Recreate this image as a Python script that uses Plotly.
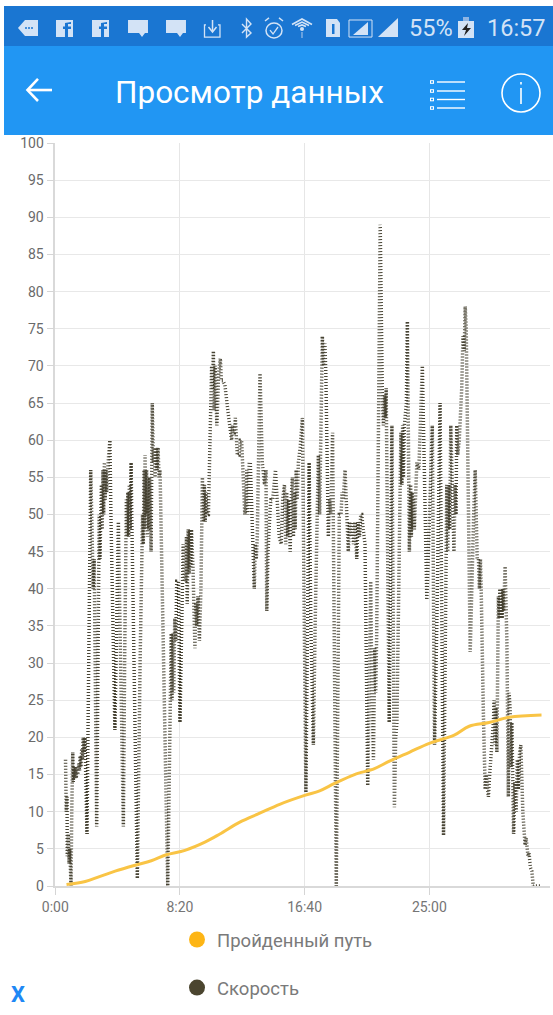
import plotly.graph_objects as go

W, H = 553, 1015

speed_samples = [(41,17),(44,10),(47,12),(48,4),(52,7),(55,3),(58,5),(63,0),(66,10),(70,18),(72,14),(75,16),(78,14.5),(81,16),(84,14.5),(87,16),(90,15),(94,16.5),(97,15.5),(100,17.5),(103,16),(106,18.5),(109,17),(112,20),(116,18),(119,20),(127,7),(136,35),(142,56),(146,50),(149,44),(152,40),(156,44),(160,30),(166,8),(170,25),(176,50),(179,44),(182,52),(185,54),(188,48),(191,56),(194,50),(197,57),(200,52),(203,56),(206,53),(210,56),(214,58),(219,60),(223,50),(239,21),(246,35),(250,44),(253,49),(258,38),(273,8),(278,30),(282,49),(285,52),(288,47),(291,53),(294,47),(297,54),(300,48),(304,57),(307,49),(329,1),(340,30),(350,50),(353,46),(356,56),(358,48),(360,58),(363,50),(366,56),(369,47),(372,55),(375,48),(378,55),(384,45),(389,65),(393,57),(397,59),(400,55),(404,59),(408,56),(412,59),(416,55),(420,56),(451,0),(460,20),(465,34),(468,25),(472,34),(475,26),(479,36),(483,33),(487,41),(494,41),(500,22),(507,35),(513,46),(518,41),(523,41),(526,47),(529,38),(533,48),(537,42),(540,48),(543,43),(546,48),(552,43),(560,32),(563,38),(567,35),(572,39),(578,33),(584,40),(590,55),(594,49),(598,54),(601,49),(604,53),(608,50),(614,50),(620,62),(627,70),
 (630,67),(632,71),(634,72),(637,64),(641,70),(648,62),(655,69),(662,71),(666,68),(672,68),(680,67.5),(692,64),(707,60),(711,62),(714,61),(718,61),(722,63),(730,58),(737,58),(742,60),(747,60),(755,54),(760,50),(764,51),(768,56),(772,50),(778,57),(782,57),(790,47),(798,40),(802,46),(806,44),(810,47),(815,55),(821,69),(830,57),(835,55),(839,54),(845,56),(848,37),(853,45),(858,50),(862,51),(865,52),(872,52),(883,56),(892,50),(898,47),(906,46),(912,52),(919,54),(924,46),(928,53),(932,47),(936,52),(942,45),(946,52),(951,55),(955,47),(959,53),(962,48),(966,56),(970,52),(975,57),(982,59),(991,63),(1005,12.6),(1018,57),(1025,35),(1035,19),(1042,35),(1050,47),(1055,58),(1060,50),(1065,60),(1071,74),(1076,70),(1081,73),(1085,69),(1095,47),(1100,52),(1105,50),(1112,61),(1127,0),(1139,50),(1146,50),(1150,53),(1155,52),(1162,56),(1170,49),(1175,45),(1180,49),(1185,47),(1190,49),(1196,46),(1202,49),(1209,44),(1214,49),(1220,47),(1225,50),(1229,50),(1235,48),(1242,46),(1253,13.5),(1265,41),(1270,25),(1276,17),(1281,32),(1285,26),(1289,34),(1294,50),(1303,89),
 (1312,65),(1316,62),(1321,66),(1324,63),(1327,67),(1339,22),(1344,40),(1350,62),(1360,10.6),(1365,20),(1370,22),(1374,34),(1380,50),(1383,54),(1386,61),(1390,54),(1393,62),(1396,55),(1400,62),(1408,65),(1412,76),(1420,45),(1425,54),(1428,47),(1431,53),(1434,48),(1437,52),(1440,48),(1444,53),(1450,57),(1458,56),(1465,62),(1472,70),(1490,38.5),(1500,50),(1512,62),(1521,19),(1530,35),(1543,65),(1557,6.8),(1570,54),(1574,45),(1578,54),(1582,48),(1586,62),(1599,45),(1603,54),(1607,50),(1610,62),(1614,58),(1620,60),(1630,67),(1635,74),(1640,72),(1644,78),(1648,75),(1664,31.5),(1672,44),(1678,50),(1684,56),(1692,44),(1697,44),(1701,40),(1705,44),(1708,40),(1717,23),(1724,13),(1728,15),(1733,13),(1737,12),(1742,15),(1747,17),(1752,19),(1757,22),(1760,25),(1764,19),(1767,24),(1771,18),(1777,39),(1780,36),(1783,40),(1786,36),(1789,40),(1792,36),(1795,40),(1798,37),(1804,43),(1811,33),(1817,12),(1820,26),(1824,24),(1828,16),(1831,22),(1835,10),(1838,7),(1843,14),(1848,10),(1853,17),(1857,13),(1862,18),(1867,19),(1875,10),(1880,7),(1884,5.5),(1888,6.5),(1892,5),(1896,4),(1900,4.5),(1905,2.5),(1911,2),(1917,0),(1950,0)]
speed_t = [s[0] for s in speed_samples]
speed_v = [s[1] for s in speed_samples]
distance_t = [45,120,180,240,320,385,445,520,600,660,740,820,900,1000,1060,1120,1200,1280,1340,1420,1500,1600,1660,1740,1820,1950]
distance_v = [0.2,0.6,1.3,2,2.8,3.4,4.2,4.8,5.9,7,8.6,9.8,11,12.2,12.8,13.8,15,15.8,16.8,18,19.2,20.3,21.5,22,22.7,23]
y_ticks = list(range(0, 101, 5))
x_ticks = [0, 500, 1000, 1500]
x_labels = ["0:00", "8:20", "16:40", "25:00"]
names = ["Пройденный путь", "Скорость"]
title = "Просмотр данных"

YEL, DARK = "#F9C445", "#4B452F"
FONT = "Roboto"
px = lambda x: x / W
py = lambda y: 1 - y / H
def P(x, y): return f"{px(x):.4f} {py(y):.4f}"
def path(pts, close=True):
    return "M" + " L".join(P(*p) for p in pts) + (" Z" if close else "")

fig = go.Figure()
fig.add_trace(go.Scatter(x=speed_t, y=speed_v, mode="lines", showlegend=False,
    line=dict(color="#474333", width=3.5, dash="1px,2px")))
fig.add_trace(go.Scatter(x=distance_t, y=distance_v, mode="lines", showlegend=False,
    line=dict(color=YEL, width=3, shape="spline")))
for i, (n, c) in enumerate(zip(names, ["#FDB515", DARK])):
    fig.add_trace(go.Scatter(x=[None], y=[None], mode="markers", name=n, legendgroup=n,
        marker=dict(color=c, size=16)))

shapes = []
def rect(x0, y0, x1, y1, c):
    shapes.append(dict(type="rect", xref="paper", yref="paper", x0=px(x0), x1=px(x1), y0=py(y0), y1=py(y1),
                       fillcolor=c, line=dict(width=0), layer="above"))
def poly(pts, fill=None, lw=0, lc="white", close=True):
    shapes.append(dict(type="path", xref="paper", yref="paper", path=path(pts, close),
                       fillcolor=fill if fill else "rgba(0,0,0,0)", line=dict(width=lw, color=lc), layer="above"))
def oval(x0, y0, x1, y1, fill=None, lw=0, lc="white"):
    shapes.append(dict(type="circle", xref="paper", yref="paper", x0=px(x0), x1=px(x1), y0=py(y0), y1=py(y1),
                       fillcolor=fill if fill else "rgba(0,0,0,0)", line=dict(width=lw, color=lc), layer="above"))

BAR, APP, IC = "#1A76D2", "#2196F3", "#D3E3F6"
rect(4, 6, 553, 46, BAR)
rect(4, 46, 553, 135, APP)
poly([(18,28),(25,20),(38,20),(38,36),(25,36)], IC)
for x in (26,29,32):
    oval(x-1,27,x+1,29,BAR)
for x in (56,92):
    rect(x,20,x+17,37,IC)
    poly([(x+12,37),(x+12,29),(x+15,29),(x+15,26.5),(x+12,26.5),(x+12,24),(x+15,24),(x+15,22),(x+9,23),(x+9,26.5),(x+7,26.5),(x+7,29),(x+9,29),(x+9,37)],BAR)
for x in (128,166):
    poly([(x,20),(x+20,20),(x+20,33),(x+17,33),(x+14,37),(x+11,33),(x,33)],IC)
poly([(206,25),(204.5,25),(204.5,37),(220,37),(220,25),(218,25)],None,1.3,IC,False)
poly([(212.5,20),(212.5,31)],None,1.5,IC,False)
poly([(208.5,27),(212.5,32),(216.5,27)],None,1.5,IC,False)
poly([(242,24),(251,33),(246.5,37),(246.5,19),(251,24),(242,33)],None,1.4,IC,False)
oval(266,23,282,38,None,1.5,IC)
poly([(270,30),(273,34),(278,27)],None,1.3,IC,False)
poly([(265,21),(269,18)],None,1.5,IC,False)
poly([(279,18),(283,21)],None,1.5,IC,False)
for r, w in ((10,1.6),(7,1.6),(4,1.6)):
    poly([(302-r,30-r*0.35-2),(302,30-r-1),(302+r,30-r*0.35-2)],None,w,IC,False)
oval(300,27,304,31,IC)
poly([(302,32),(302,38)],None,1.2,"#9DBFE8",False)
poly([(326,19),(337,19),(340,23),(340,37),(326,37)],IC)
rect(332,24,334.5,34,BAR)
poly([(349,20),(372,20),(372,37),(349,37)],None,1,IC)
poly([(353,35),(368,35),(368,22)],IC)
poly([(378,37),(398,37),(398,18)],IC)
rect(458,21,474,38,IC); rect(463,17,469,21,"#8FB5E3")
poly([(468,23),(462,30),(466,30),(464,36),(471,28),(467,28)],"#222")

poly([(28,90),(52,90)],None,2.6,"white",False)
poly([(38,79),(27.5,90),(38,101)],None,2.6,"white",False)
for y in (82,91,99.5,108):
    rect(430,y-1.8,434,y+1.8,"white"); rect(431,y-0.8,433,y+0.8,APP)
    rect(437,y-0.7,465,y+0.7,"white")
oval(502,74,540,112,None,1.6,"white")
rect(520.2,88,521.8,104,"white"); rect(520.2,82,521.8,84.5,"white")

def txt(x, y, s, size, color, anchor="left", family=FONT):
    return dict(xref="paper", yref="paper", x=px(x), y=py(y), text=s, showarrow=False, xanchor=anchor,
                yanchor="middle", font=dict(size=size, color=color, family=family))
annotations = [
    txt(407, 28, "55%", 23.5, IC),
    txt(485, 28, "16:57", 23.5, IC),
    txt(113, 92, title, 31.5, "white"),
    txt(9, 994, "<b>X</b>", 22, "#1E88F5"),
]

fig.update_layout(
    width=W, height=H, margin=dict(l=0, r=0, t=0, b=0, autoexpand=False), autosize=False,
    paper_bgcolor="white", plot_bgcolor="white", shapes=shapes, annotations=annotations,
    font=dict(family=FONT),
    xaxis=dict(domain=[px(55.3), px(550)], range=[0, 1984], tickvals=x_ticks, ticktext=x_labels, showgrid=True,
               gridcolor="#E6E6E6", gridwidth=1, ticks="outside", ticklen=7, tickcolor="#D5D5D5",
               showline=True, linecolor="#D9D9D9", linewidth=1.5, tickfont=dict(size=14, color="#757575"), zeroline=False),
    yaxis=dict(domain=[py(886), py(143)], range=[0, 100], tickvals=y_ticks, showgrid=True,
               gridcolor="#E8E8E8", gridwidth=1, ticks="outside", ticklen=7, tickcolor="#D5D5D5",
               showline=True, linecolor="#D9D9D9", linewidth=1.5, tickfont=dict(size=14, color="#6A6A6A"), zeroline=False),
    legend=dict(x=px(177), y=py(921), xanchor="left", yanchor="top", tracegroupgap=21,
                font=dict(size=18.5, color="#7A7A7A", family=FONT), bgcolor="rgba(0,0,0,0)"),
)
fig.write_html("out.html", config=dict(displayModeBar=False),
               post_script="document.documentElement.style.margin='0';document.body.style.margin='0';document.body.style.padding='0';document.documentElement.style.overflow='hidden';")
